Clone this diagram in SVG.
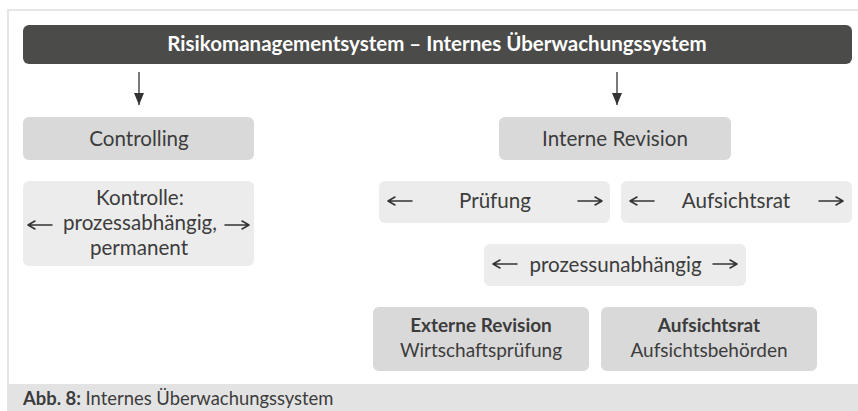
<svg xmlns="http://www.w3.org/2000/svg" width="858" height="411" viewBox="0 0 858 411">
  <style>
    text { font-family: Lato, "Liberation Sans", sans-serif; fill: #3c3c3c; }
    .title { font-size: 20.5px; font-weight: bold; fill: #ffffff; }
    .lbl { font-size: 20.6px; }
    .sm { font-size: 19px; }
    .b { font-weight: bold; }
    .dark { fill: #d9d9d9; }
    .light { fill: #ececec; }
    .conn { stroke: #333333; stroke-width: 1.3; fill: none; }
    .harr { stroke: #333333; stroke-width: 1.5; fill: none; stroke-linecap: round; stroke-linejoin: round; }
  </style>
  <defs>
    <marker id="head" viewBox="0 0 12 10" refX="12" refY="5" markerWidth="12" markerHeight="10" markerUnits="userSpaceOnUse" orient="auto">
      <path d="M0,0 L12,5 L0,10 Z" fill="#333333"/>
    </marker>
    <!-- inline arrows, drawn with the tip at the origin -->
    <path id="arrL" d="M0,0 H24 M0,0 L7,-4 M0,0 L7,4"/>
    <path id="arrR" d="M0,0 H-24 M0,0 L-7,-4 M0,0 L-7,4"/>
  </defs>

  <!-- frame -->
  <g id="frame">
    <rect x="0" y="0" width="858" height="411" fill="#ffffff"/>
    <rect x="7" y="9" width="851" height="2" fill="#e6e6e6"/>
    <rect x="7" y="9" width="2" height="375" fill="#e6e6e6"/>
  </g>

  <!-- header -->
  <g id="header">
    <rect x="23" y="25" width="829" height="39" rx="6" fill="#4b4b4a"/>
    <text class="title" x="437" y="51" text-anchor="middle">Risikomanagementsystem – Internes Überwachungssystem</text>
  </g>

  <!-- connectors -->
  <g id="connectors">
    <line class="conn" x1="139" y1="72" x2="139" y2="105" marker-end="url(#head)"/>
    <line class="conn" x1="617" y1="72" x2="617" y2="105" marker-end="url(#head)"/>
  </g>

  <g id="controlling">
    <rect class="dark" x="23" y="117" width="231" height="43" rx="6"/>
    <text class="lbl" x="139" y="146" text-anchor="middle">Controlling</text>
  </g>

  <g id="kontrolle">
    <rect class="light" x="23" y="181" width="231" height="85" rx="6"/>
    <text class="lbl" x="140" y="205" text-anchor="middle">Kontrolle:</text>
    <use href="#arrL" class="harr" x="28" y="225"/>
    <text class="lbl" x="140" y="230" text-anchor="middle">prozessabhängig,</text>
    <use href="#arrR" class="harr" x="249" y="225"/>
    <text class="lbl" x="139" y="255" text-anchor="middle">permanent</text>
  </g>

  <g id="interne-revision">
    <rect class="dark" x="499" y="117" width="232" height="43" rx="6"/>
    <text class="lbl" x="615" y="146" text-anchor="middle">Interne Revision</text>
  </g>

  <g id="pruefung">
    <rect class="light" x="379" y="181" width="231" height="42" rx="6"/>
    <use href="#arrL" class="harr" x="388" y="201"/>
    <text class="lbl" x="495" y="208" text-anchor="middle">Prüfung</text>
    <use href="#arrR" class="harr" x="602" y="201"/>
  </g>

  <g id="aufsichtsrat-oben">
    <rect class="light" x="621" y="181" width="231" height="42" rx="6"/>
    <use href="#arrL" class="harr" x="630" y="201"/>
    <text class="lbl" x="736" y="208" text-anchor="middle">Aufsichtsrat</text>
    <use href="#arrR" class="harr" x="843" y="201"/>
  </g>

  <g id="prozessunabhaengig">
    <rect class="light" x="484" y="244" width="262" height="42" rx="6"/>
    <use href="#arrL" class="harr" x="493" y="264"/>
    <text class="lbl" x="615.5" y="272" text-anchor="middle">prozessunabhängig</text>
    <use href="#arrR" class="harr" x="737" y="264"/>
  </g>

  <g id="externe-revision">
    <rect class="dark" x="373" y="307" width="216" height="64" rx="6"/>
    <text class="sm b" x="481" y="332" text-anchor="middle">Externe Revision</text>
    <text class="sm" x="481" y="357" text-anchor="middle">Wirtschaftsprüfung</text>
  </g>

  <g id="aufsichtsrat-unten">
    <rect class="dark" x="601" y="307" width="216" height="64" rx="6"/>
    <text class="sm b" x="709" y="332" text-anchor="middle">Aufsichtsrat</text>
    <text class="sm" x="709" y="357" text-anchor="middle">Aufsichtsbehörden</text>
  </g>

  <!-- caption -->
  <g id="caption">
    <rect x="7" y="384" width="851" height="27" fill="#e3e3e3"/>
    <text x="23" y="405" font-size="18.4"><tspan class="b">Abb. 8:</tspan> Internes Überwachungssystem</text>
  </g>
</svg>
